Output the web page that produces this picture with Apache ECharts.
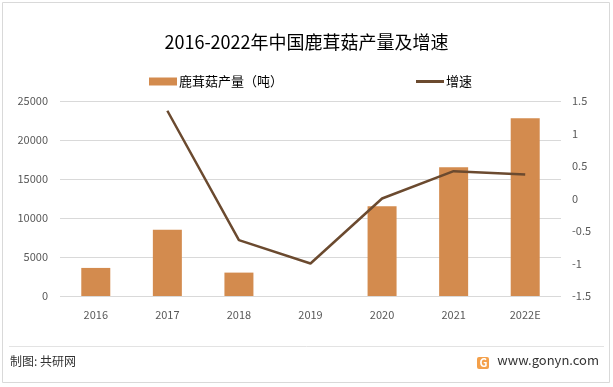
<!DOCTYPE html>
<html><head><meta charset="utf-8">
<script src="https://cdn.jsdelivr.net/npm/echarts@6/dist/echarts.min.js"></script>
<style>html,body{margin:0;padding:0;background:#fff}#c{width:613px;height:387px}</style>
</head><body><div id="c"></div>
<script>
var categories = ['2016','2017','2018','2019','2020','2021','2022E'];
var production = [3600, 8500, 3000, 0, 11500, 16500, 22800];
var growth = [null, 1.35, -0.64, -1.0, 0, 0.42, 0.37];
var leftTicks = [0, 25000, 5000];
var rightTicks = [-1.5, 1.5, 0.5];

var chart = echarts.init(document.getElementById('c'));
var font = '"Microsoft YaHei","Noto Sans CJK SC",sans-serif';
chart.setOption({
  animation: false,
  title: {text: '2016-2022年中国鹿茸菇产量及增速', left: 'center', top: 28,
    textStyle: {fontSize: 18, fontWeight: 'normal', color: '#000', fontFamily: font}},
  legend: [
    {top: 70, left: 144, itemWidth: 28, itemHeight: 8, itemGap: 2,
     textStyle: {fontSize: 13, color: '#000', fontFamily: font, padding: [0,0,0,-3]},
     data: [{name: '鹿茸菇产量（吨）', icon: 'rect'}]},
    {top: 70, left: 411, itemWidth: 28, itemHeight: 3,
     textStyle: {fontSize: 13, color: '#000', fontFamily: font, padding: [0,0,0,-3]},
     data: [{name: '增速', icon: 'rect', itemStyle: {color: '#6B4A2F'}}]}
  ],
  grid: {left: 60, right: 52, top: 101, bottom: 91},
  xAxis: {type: 'category', data: categories,
    axisLine: {show: false}, axisTick: {show: false},
    axisLabel: {color: '#595959', fontSize: 11, margin: 13, fontFamily: font}},
  yAxis: [
    {type: 'value', min: leftTicks[0], max: leftTicks[1], interval: leftTicks[2],
     axisLine: {show: false}, axisTick: {show: false},
     splitLine: {lineStyle: {color: '#d9d9d9'}},
     axisLabel: {color: '#595959', fontSize: 11, margin: 12, fontFamily: font,
       formatter: function (v) { return String(v); }}},
    {type: 'value', min: rightTicks[0], max: rightTicks[1], interval: rightTicks[2],
     axisLine: {show: false}, axisTick: {show: false}, splitLine: {show: false},
     axisLabel: {color: '#595959', fontSize: 11, margin: 11, fontFamily: font,
       formatter: function (v) { return String(v); }}}
  ],
  series: [
    {name: '鹿茸菇产量（吨）', type: 'bar', data: production, barWidth: 29,
     itemStyle: {color: '#D38B4E'}},
    {name: '增速', type: 'line', yAxisIndex: 1, data: growth, symbol: 'none',
     lineStyle: {color: '#6B4A2F', width: 2.5}, itemStyle: {color: '#6B4A2F'}}
  ],
  graphic: [
    {type: 'rect', shape: {x: 2.5, y: 2.5, width: 607, height: 380}, style: {fill: 'none', stroke: '#d9d9d9', lineWidth: 1}},
    {type: 'line', shape: {x1: 9, y1: 346.5, x2: 604, y2: 346.5}, style: {stroke: '#e3e3e3', lineWidth: 1}},
    {type: 'text', left: 10, top: 355, style: {text: '制图: 共研网', fontSize: 12, fill: '#333', fontFamily: font}},
    {type: 'rect', shape: {x: 477, y: 357, width: 12, height: 12, r: 2}, style: {fill: '#F4A04A'}},
    {type: 'text', left: 479.5, top: 357, style: {text: 'G', fontSize: 11, fontWeight: 'bold', fill: '#fff', fontFamily: font}},
    {type: 'text', right: 14, top: 354, style: {text: 'www.gonyn.com', fontSize: 13, fill: '#333', fontFamily: font}}
  ]
});
</script></body></html>
